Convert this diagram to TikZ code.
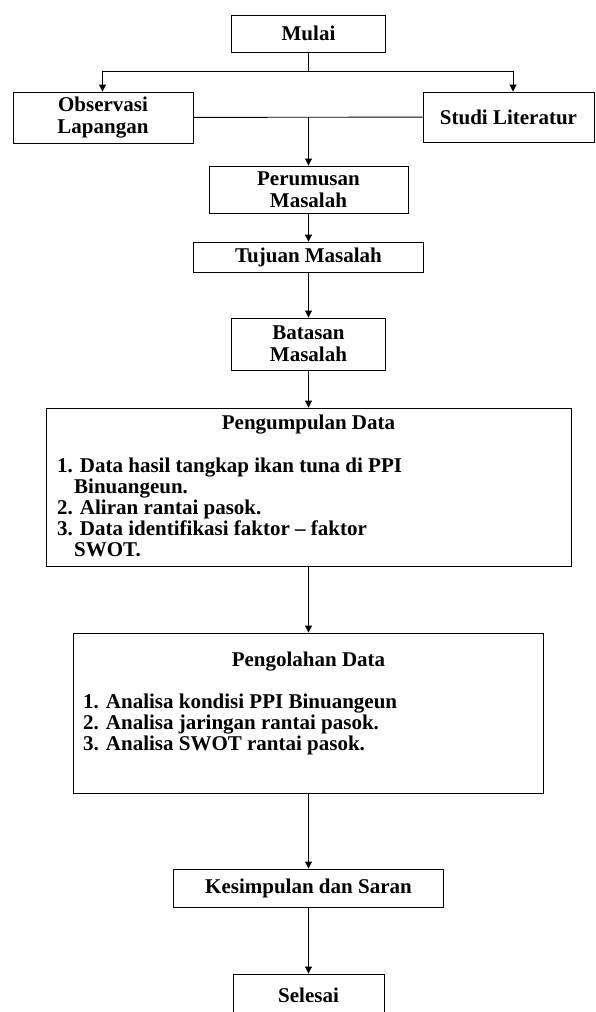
\documentclass[tikz,border=0pt]{standalone}
\usepackage{fontspec}
\setmainfont{Liberation Serif}
\usetikzlibrary{
	arrows.meta
}

\tikzset{
	box/.style={draw, line width=0.9pt, rectangle, inner sep=0pt, align=center,
		font=\bfseries\fontsize{21}{22}\selectfont},
	txt/.style={inner sep=0pt, anchor=base west, font=\bfseries\fontsize{21}{22}\selectfont},
	line/.style={line width=0.9pt},
	arr/.style={line, -{Triangle[width=7pt,length=7pt]}}
}

\begin{document}
\begin{tikzpicture}[x={(1pt,0)}, y={(0,-1pt)}]
		\useasboundingbox (0,0) rectangle (595,1012);

		\draw
			node[box, minimum width=154, minimum height=37]  (mulai)   at (308.5,33.5)  {Mulai}
			node[box, minimum width=180, minimum height=51]  (obs)     at (103,117.5)   {Observasi\\Lapangan}
			node[box, minimum width=171, minimum height=50]  (studi)   at (508.5,117)   {Studi Literatur}
			node[box, minimum width=199, minimum height=47]  (rumus)   at (308.5,189.5) {Perumusan\\Masalah}
			node[box, minimum width=230, minimum height=30]  (tujuan)  at (308.5,257)   {Tujuan Masalah}
			node[box, minimum width=154, minimum height=52]  (batas)   at (308.5,344)   {Batasan\\Masalah}
			node[box, minimum width=525, minimum height=158] (kumpul)  at (308.5,487)   {}
			node[box, minimum width=470, minimum height=160] (olah)    at (308.5,713)   {}
			node[box, minimum width=270, minimum height=38]  (simpul)  at (308.5,888)   {Kesimpulan dan Saran}
			node[box, minimum width=151, minimum height=42]  (selesai) at (308.5,995)   {Selesai}
		;

		\node[txt, anchor=base] (kumpul-judul) at (308.5,429) {Pengumpulan Data};
		\foreach \x/\y/\t [count=\i] in {
				57/472/{1. Data hasil tangkap ikan tuna di PPI},
				74/493/{Binuangeun.},
				57/514/{2. Aliran rantai pasok.},
				57/535/{3. Data identifikasi faktor -- faktor},
				74/556/{SWOT.}}
			\node[txt] (kumpul-\i) at (\x,\y) {\t};

		\node[txt, anchor=base] (olah-judul) at (308.5,666) {Pengolahan Data};
		\foreach \x/\y/\t [count=\i] in {
				83/708/{1. Analisa kondisi PPI Binuangeun},
				83/729/{2. Analisa jaringan rantai pasok.},
				83/750/{3. Analisa SWOT rantai pasok.}}
			\node[txt] (olah-\i) at (\x,\y) {\t};

		\coordinate (cabang) at (308.5,71);
		\coordinate (gabung) at (308.5,117);

		\draw[line] (mulai) -- (cabang);
		\draw[arr] (cabang) -| ([xshift=-0.5pt]obs.north);
		\draw[arr] (cabang) -| ([xshift=4.5pt]studi.north);
		\draw[line] (obs) -- (studi);
		\draw[arr] (gabung) -- (rumus);
		\draw[arr] (rumus) -- (tujuan);
		\draw[arr] (tujuan) -- (batas);
		\draw[arr] (batas) -- (kumpul);
		\draw[arr] (kumpul) -- (olah);
		\draw[arr] (olah) -- (simpul);
		\draw[arr] (simpul) -- (selesai);
	\end{tikzpicture}
\end{document}
